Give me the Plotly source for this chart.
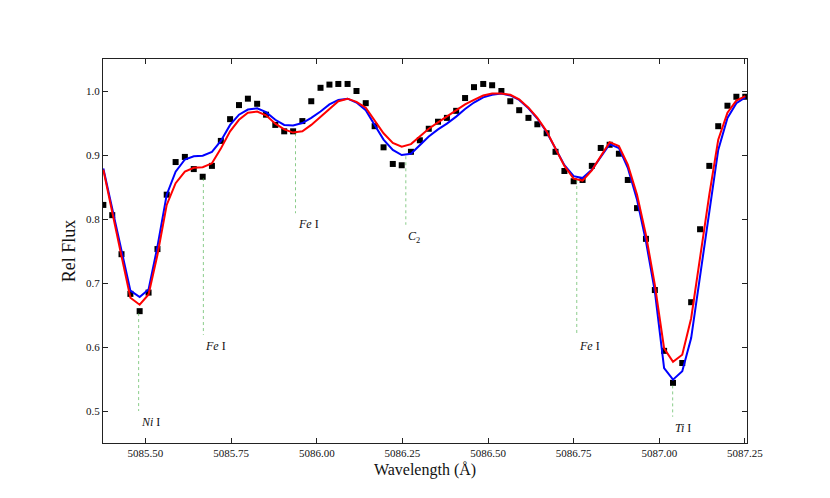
import plotly.graph_objects as go

# --- observed spectrum (black squares) ---
wave = [5085.377, 5085.403, 5085.430, 5085.456, 5085.483, 5085.509, 5085.535, 5085.562,
        5085.588, 5085.615, 5085.641, 5085.667, 5085.694, 5085.720, 5085.747, 5085.773,
        5085.799, 5085.826, 5085.852, 5085.879, 5085.905, 5085.931, 5085.958, 5085.984,
        5086.011, 5086.037, 5086.063, 5086.090, 5086.116, 5086.143, 5086.169, 5086.195,
        5086.222, 5086.248, 5086.275, 5086.301, 5086.327, 5086.354, 5086.380, 5086.407,
        5086.433, 5086.459, 5086.486, 5086.512, 5086.539, 5086.565, 5086.591, 5086.618,
        5086.644, 5086.671, 5086.697, 5086.723, 5086.750, 5086.776, 5086.803, 5086.829,
        5086.855, 5086.882, 5086.908, 5086.935, 5086.961, 5086.987, 5087.014, 5087.040,
        5087.067, 5087.093, 5087.119, 5087.146, 5087.172, 5087.199, 5087.225, 5087.251]

flux_obs = [0.822, 0.806, 0.745, 0.683, 0.656, 0.685, 0.753, 0.838,
            0.889, 0.897, 0.878, 0.866, 0.883, 0.922, 0.956, 0.978,
            0.988, 0.980, 0.963, 0.947, 0.937, 0.937, 0.953, 0.984,
            1.005, 1.010, 1.011, 1.011, 1.000, 0.981, 0.945, 0.912,
            0.886, 0.884, 0.905, 0.923, 0.941, 0.952, 0.958, 0.969,
            0.989, 1.006, 1.011, 1.009, 1.000, 0.984, 0.970, 0.958,
            0.948, 0.934, 0.905, 0.875, 0.859, 0.861, 0.883, 0.911,
            0.916, 0.902, 0.861, 0.817, 0.769, 0.689, 0.594, 0.544,
            0.575, 0.670, 0.784, 0.883, 0.945, 0.977, 0.991, 0.991]

# --- synthetic spectra ---
flux_blue = [0.879, 0.815, 0.752, 0.688, 0.678, 0.690, 0.757, 0.838,
             0.874, 0.893, 0.898, 0.899, 0.905, 0.922, 0.947, 0.963,
             0.971, 0.973, 0.967, 0.955, 0.947, 0.946, 0.950, 0.958,
             0.968, 0.979, 0.986, 0.988, 0.982, 0.970, 0.947, 0.924,
             0.908, 0.900, 0.902, 0.916, 0.929, 0.940, 0.949, 0.960,
             0.972, 0.982, 0.990, 0.994, 0.996, 0.993, 0.986, 0.973,
             0.957, 0.936, 0.911, 0.884, 0.867, 0.864, 0.877, 0.898,
             0.917, 0.911, 0.880, 0.830, 0.765, 0.687, 0.567, 0.549,
             0.562, 0.614, 0.713, 0.817, 0.908, 0.958, 0.981, 0.990]

flux_red = [0.877, 0.808, 0.742, 0.677, 0.666, 0.682, 0.744, 0.822,
            0.856, 0.874, 0.880, 0.881, 0.887, 0.910, 0.937, 0.955,
            0.966, 0.968, 0.962, 0.949, 0.940, 0.935, 0.937, 0.947,
            0.960, 0.973, 0.984, 0.988, 0.983, 0.974, 0.953, 0.934,
            0.919, 0.913, 0.917, 0.929, 0.941, 0.951, 0.960, 0.969,
            0.979, 0.986, 0.993, 0.996, 0.996, 0.994, 0.987, 0.974,
            0.958, 0.937, 0.911, 0.883, 0.863, 0.860, 0.876, 0.898,
            0.920, 0.914, 0.885, 0.838, 0.775, 0.697, 0.598, 0.577,
            0.588, 0.645, 0.739, 0.838, 0.924, 0.966, 0.985, 0.992]

# --- line identifications ---
line_wave = [5085.480, 5085.669, 5085.938, 5086.260, 5086.759, 5087.039]
line_top = [0.653, 0.864, 0.934, 0.898, 0.861, 0.540]
line_bottom = [0.500, 0.619, 0.809, 0.791, 0.619, 0.491]
line_names = ["<i>Ni</i> I", "<i>Fe</i> I", "<i>Fe</i> I", "<i>C</i><sub>2</sub>",
              "<i>Fe</i> I", "<i>Ti</i> I"]

x_ticks = [5085.50, 5085.75, 5086.00, 5086.25, 5086.50, 5086.75, 5087.00, 5087.25]
y_ticks = [0.5, 0.6, 0.7, 0.8, 0.9, 1.0]

serif = "Liberation Serif, DejaVu Serif, serif"

fig = go.Figure()

fig.add_trace(go.Scatter(x=wave, y=flux_obs, mode="markers",
                         marker=dict(symbol="square", size=6, color="black"),
                         name="obs"))
fig.add_trace(go.Scatter(x=wave, y=flux_blue, mode="lines",
                         line=dict(color="#0000ff", width=2), name="model 1"))
fig.add_trace(go.Scatter(x=wave, y=flux_red, mode="lines",
                         line=dict(color="#ff0000", width=2), name="model 2"))

for xw, yt, yb, name in zip(line_wave, line_top, line_bottom, line_names):
    fig.add_shape(type="line", xref="x", yref="y", x0=xw, x1=xw, y0=yt, y1=yb,
                  line=dict(color="rgba(60,170,60,0.6)", width=1, dash="dot"))
    fig.add_annotation(x=xw, y=yb, xref="x", yref="y", text=name, showarrow=False,
                       xanchor="left", yanchor="top", yshift=-2,
                       font=dict(family=serif, size=12, color="#111"))

# page is drawn with an 8px body offset, so margins are shifted by that
fig.update_layout(
    width=830, height=498,
    margin=dict(l=95, r=91, t=51, b=63),
    paper_bgcolor="white", plot_bgcolor="white",
    showlegend=False,
    font=dict(family=serif, color="#111"),
)

fig.update_xaxes(range=[5085.376, 5087.256], tickvals=x_ticks,
                 ticktext=[f"{v:.2f}" for v in x_ticks],
                 ticks="inside", ticklen=5, tickcolor="#222", mirror="ticks",
                 showline=True, linecolor="#222", linewidth=1, showgrid=False,
                 zeroline=False, tickfont=dict(size=11),
                 title=dict(text="Wavelength (Å)", font=dict(size=16), standoff=5))
fig.update_yaxes(range=[0.45, 1.05], tickvals=y_ticks,
                 ticktext=[f"{v:.1f}" for v in y_ticks],
                 ticks="inside", ticklen=5, tickcolor="#222", mirror="ticks",
                 showline=True, linecolor="#222", linewidth=1, showgrid=False,
                 zeroline=False, tickfont=dict(size=11),
                 title=dict(text="Rel Flux", font=dict(size=18), standoff=5))

fig.write_html("out.html")
